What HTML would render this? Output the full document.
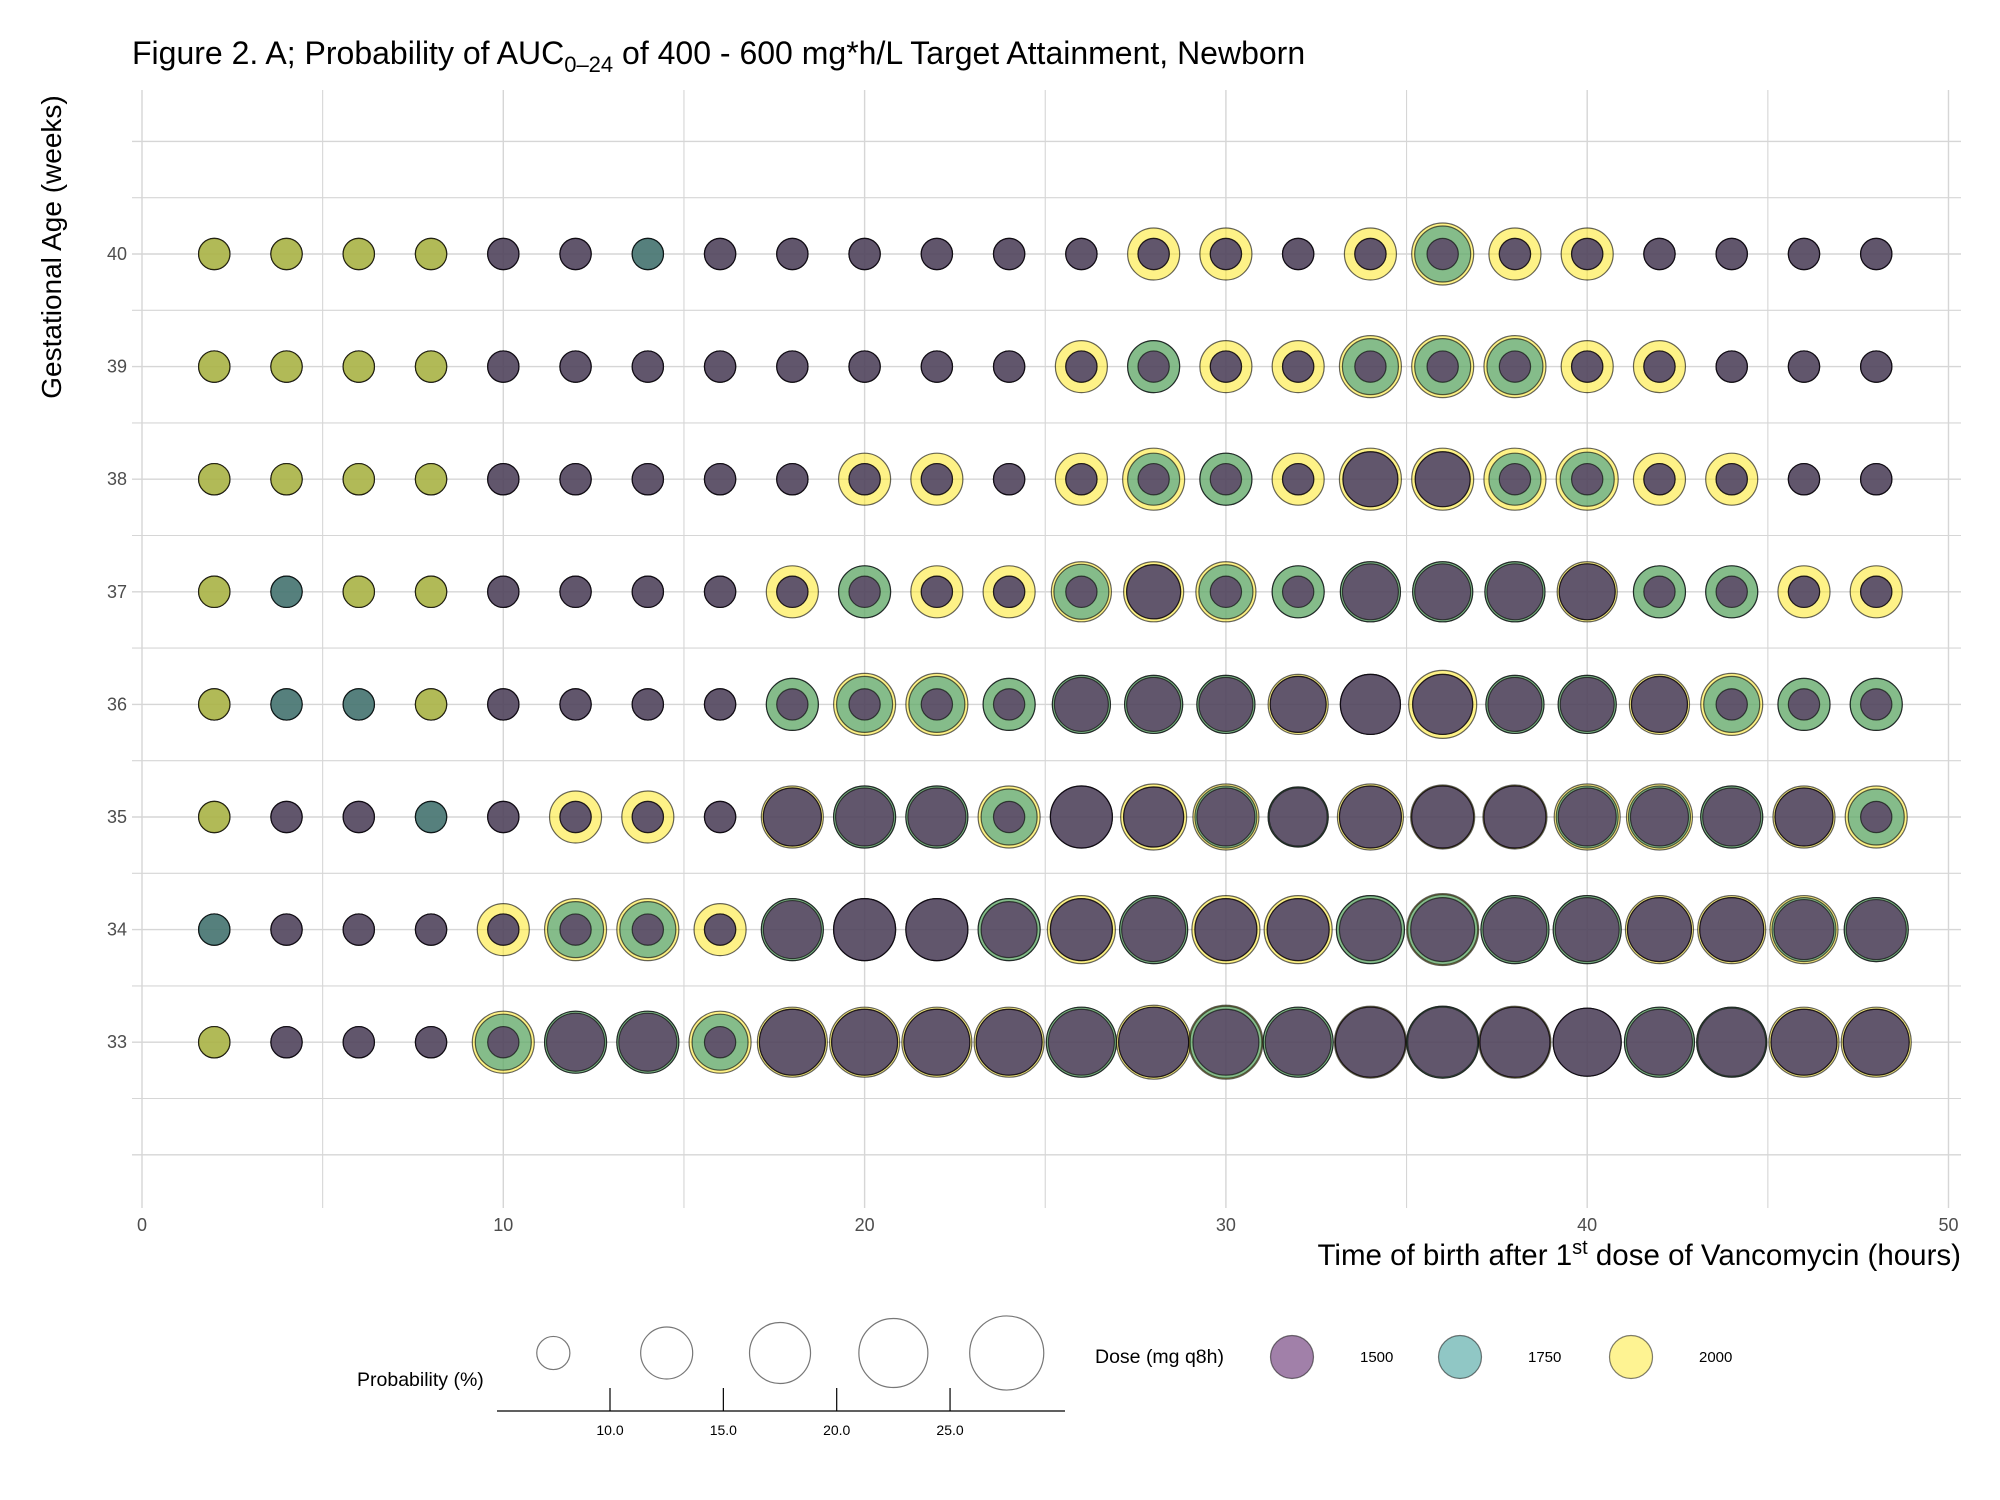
<!DOCTYPE html>
<html><head><meta charset="utf-8"><style>
html,body{margin:0;padding:0;background:#fff;}
svg{display:block;font-family:"Liberation Sans",Arial,sans-serif;}
</style></head><body>
<svg id="chart" width="2000" height="1500" viewBox="0 0 2000 1500" xmlns="http://www.w3.org/2000/svg">
<rect width="2000" height="1500" fill="#fff"/>
<g id="grid"></g>
<g id="points"></g>
<g id="axes"></g>
<text x="132" y="64" font-size="32" fill="#000">Figure 2. A; Probability of AUC<tspan font-size="22" dy="8">0–24</tspan><tspan dy="-8"> of 400 - 600 mg*h/L Target Attainment, Newborn</tspan></text>
<text transform="translate(61,247) rotate(-90)" text-anchor="middle" font-size="28" fill="#000">Gestational Age (weeks)</text>
<text x="1961" y="1265" text-anchor="end" font-size="29.5" fill="#000">Time of birth after 1<tspan font-size="20" dy="-11">st</tspan><tspan dy="11"> dose of Vancomycin (hours)</tspan></text>
<g id="legend-size">
<text x="357" y="1386" font-size="19.5" fill="#000">Probability (%)</text>
<line x1="497" y1="1411" x2="1065" y2="1411" stroke="#000" stroke-width="1.3"/>
</g>
<g id="legend-dose">
<text x="1095" y="1363" font-size="19.5" fill="#000">Dose (mg q8h)</text>
</g>
</svg>
<script>
const times=[2,4,6,8,10,12,14,16,18,20,22,24,26,28,30,32,34,36,38,40,42,44,46,48];
const ages=[40,39,38,37,36,35,34,33];
const xTicks=[0,10,20,30,40,50];
const yTicks=[33,34,35,36,37,38,39,40];
const doses=["1500","1750","2000"];
const p1500=[
[5,5,5,5,5,5,5,5,5,5,5,5,5,5,5,5,5,5,5,5,5,5,5,5],
[5,5,5,5,5,5,5,5,5,5,5,5,5,5,5,5,5,5,5,5,5,5,5,5],
[5,5,5,5,5,5,5,5,5,5,5,5,5,5,5,5,15.4,15.4,5,5,5,5,5,5],
[5,5,5,5,5,5,5,5,5,5,5,5,5,14.9,5,5,16,16,16,16,5,5,5,5],
[5,5,5,5,5,5,5,5,5,5,5,5,14.9,14.9,14.9,16,18.4,18.4,14.9,14.9,16,5,5,5],
[5,5,5,5,5,5,5,5,17.2,17.2,17.2,5,19.6,18.4,17.2,17.2,19.6,19.6,19.6,17.2,17.2,17.2,17.2,5],
[5,5,5,5,5,5,5,5,17.2,19.6,19.6,16,19.6,20.9,19.6,19.6,19.6,20.9,20.9,20.9,20.9,20.9,18.4,18.4],
[5,5,5,5,5,17.2,17.2,5,22.2,22.2,22.2,22.2,22.2,25,22.2,22.2,25,25,25,23.6,22.2,23.6,22.2,22.2]];
const p1750=[
[5,5,5,5,5,5,5,5,5,5,5,5,5,5,5,5,5,16,5,5,5,5,5,5],
[5,5,5,5,5,5,5,5,5,5,5,5,5,13.8,5,5,16,16,16,5,5,5,5,5],
[5,5,5,5,5,5,5,5,5,5,5,5,5,13.8,13.8,5,15.4,15.4,13.8,14.9,5,5,5,5],
[5,5,5,5,5,5,5,5,5,13.8,5,5,15.4,14.9,14.9,13.8,18.4,18.4,18.4,16,13.8,13.8,5,5],
[5,5,5,5,5,5,5,5,13.8,16,16,13.8,17.2,17.2,17.2,16,18.4,18.4,17.2,17.2,16,16,13.8,13.8],
[5,5,5,5,5,5,5,5,17.2,19.6,19.6,16,19.6,18.4,19.6,18.4,19.6,19.6,19.6,19.6,19.6,19.6,17.2,16],
[5,5,5,5,5,16,16,5,19.6,19.6,19.6,19.6,19.6,23.6,19.6,19.6,23.6,25,23.6,23.6,20.9,20.9,20.9,20.9],
[5,5,5,5,16,19.6,19.6,16,22.2,22.2,22.2,22.2,25,25,26.4,25,25,26.4,25,23.6,25,25,22.2,22.2]];
const p2000=[
[5,5,5,5,5,5,5,5,5,5,5,5,5,13.8,13.8,5,13.8,19.6,13.8,13.8,5,5,5,5],
[5,5,5,5,5,5,5,5,5,5,5,5,13.8,13.8,13.8,13.8,19.6,19.6,19.6,13.8,13.8,5,5,5],
[5,5,5,5,5,5,5,5,5,13.8,13.8,5,13.8,19.6,13.8,13.8,19.6,19.6,19.6,19.6,13.8,13.8,5,5],
[5,5,5,5,5,5,5,5,13.8,13.8,13.8,13.8,18.4,18.4,18.4,13.8,18.4,18.4,18.4,18.4,13.8,13.8,13.8,13.8],
[5,5,5,5,5,5,5,5,13.8,19.6,19.6,13.8,17.2,17.2,17.2,18.4,18.4,23.6,17.2,17.2,18.4,19.6,13.8,13.8],
[5,5,5,5,5,13.8,13.8,5,19.6,19.6,19.6,19.6,19.6,22.2,22.2,18.4,22.2,20.9,20.9,22.2,22.2,19.6,19.6,19.6],
[5,5,5,5,13.8,19.6,19.6,13.8,19.6,19.6,19.6,19.6,23.6,23.6,23.6,23.6,23.6,26.4,23.6,23.6,23.6,23.6,23.6,20.9],
[5,5,5,5,19.6,19.6,19.6,19.6,25,25,25,25,25,27.9,27.9,25,26.4,26.4,26.4,23.6,25,25,25,25]];
// drawing order: D = purple on top, O = yellow on top, T = teal on top
const tieTop=[
"OOOODDTDDDDDDDDDDDDDDDDD",
"OOOODDDDDDDDDDDDDDDDDDDD",
"OOOODDDDDDDDDDDDDDDDDDDD",
"OTOODDDDDDDDDDDDDDDDDDDD",
"OTTODDDDDDDDDDDDDDDDDDDD",
"ODDTDDDDDDDDDDDDDDDDDDDD",
"TDDDDDDDDDDDDDDDDDDDDDDD",
"ODDDDDDDDDDDDDDDDDDDDDDD"];
const legendSizes=[5.6,13.8,19,24.3,28];
const legendTicks=[10,15,20,25];

const NS="http://www.w3.org/2000/svg";
const X=t=>142+t*36.13;
const Y=g=>254+(40-g)*112.6;
const R=p=>7.0*Math.sqrt(p);
const colors={"1500":"#440154","1750":"#21908C","2000":"#FDE725"};
const A=0.55;
function mk(tag,attrs,parent){const e=document.createElementNS(NS,tag);for(const k in attrs)e.setAttribute(k,attrs[k]);parent.appendChild(e);return e;}

const grid=document.getElementById('grid');
for(let g=32;g<=41.001;g+=0.5){
  const l=mk('line',{x1:132,x2:1961,y1:Y(g),y2:Y(g),stroke:'#d6d6d6','stroke-width':Number.isInteger(g)?1.4:1.1},grid);
  
  
}
for(let t=0;t<=50;t+=5){
  const l=mk('line',{x1:X(t),x2:X(t),y1:90,y2:1208,stroke:'#d6d6d6','stroke-width':t%10===0?1.4:1.1},grid);
  
  
}
const axes=document.getElementById('axes');
xTicks.forEach(t=>{
  const e=mk('text',{x:X(t),y:1231,'text-anchor':'middle','font-size':18,fill:'#4d4d4d'},axes);
  e.textContent=t;
  
  
});
yTicks.forEach(g=>{
  const e=mk('text',{x:127,y:Y(g)+6,'text-anchor':'end','font-size':18,fill:'#4d4d4d'},axes);
  e.textContent=g;
  
  
});

const drawOrder={D:["2000","1750","1500"],O:["1500","1750","2000"],T:["2000","1500","1750"]};
const pts=document.getElementById('points');
ages.forEach((g,gi)=>{
  times.forEach((t,ti)=>{
    const vals={"1500":p1500[gi][ti],"1750":p1750[gi][ti],"2000":p2000[gi][ti]};
    const code=tieTop[gi][ti];
    drawOrder[code].forEach(d=>{
      const c=mk('circle',{cx:X(t),cy:Y(g),r:R(vals[d]),fill:colors[d],'fill-opacity':A,stroke:'#000','stroke-opacity':0.6,'stroke-width':1.2},pts);
      
      
    });
  });
});

const ls=document.getElementById('legend-size');
const LX=v=>610+(v-10)*22.67;
[7.5,12.5,17.5,22.5,27.5].forEach((v,i)=>{
  const c=mk('circle',{cx:LX(v),cy:1353,r:R(legendSizes[i]),fill:'none',stroke:'#777','stroke-width':1.2},ls);
  
  
});
legendTicks.forEach(v=>{
  mk('line',{x1:LX(v),x2:LX(v),y1:1388,y2:1411,stroke:'#000','stroke-width':1.2},ls);
  const e=mk('text',{x:LX(v),y:1435,'text-anchor':'middle','font-size':14,fill:'#000'},ls);
  e.textContent=v.toFixed(1);
  
  
});
const ld=document.getElementById('legend-dose');
const dx=[1292,1460,1631];
doses.forEach((d,i)=>{
  const c=mk('circle',{cx:dx[i],cy:1357,r:21.5,fill:colors[d],'fill-opacity':0.5,stroke:'#000','stroke-opacity':0.5,'stroke-width':1.2},ld);
  
  
  const e=mk('text',{x:dx[i]+68,y:1362,'font-size':15,fill:'#000'},ld);
  e.textContent=d;
  
  
});
</script>
</body></html>
